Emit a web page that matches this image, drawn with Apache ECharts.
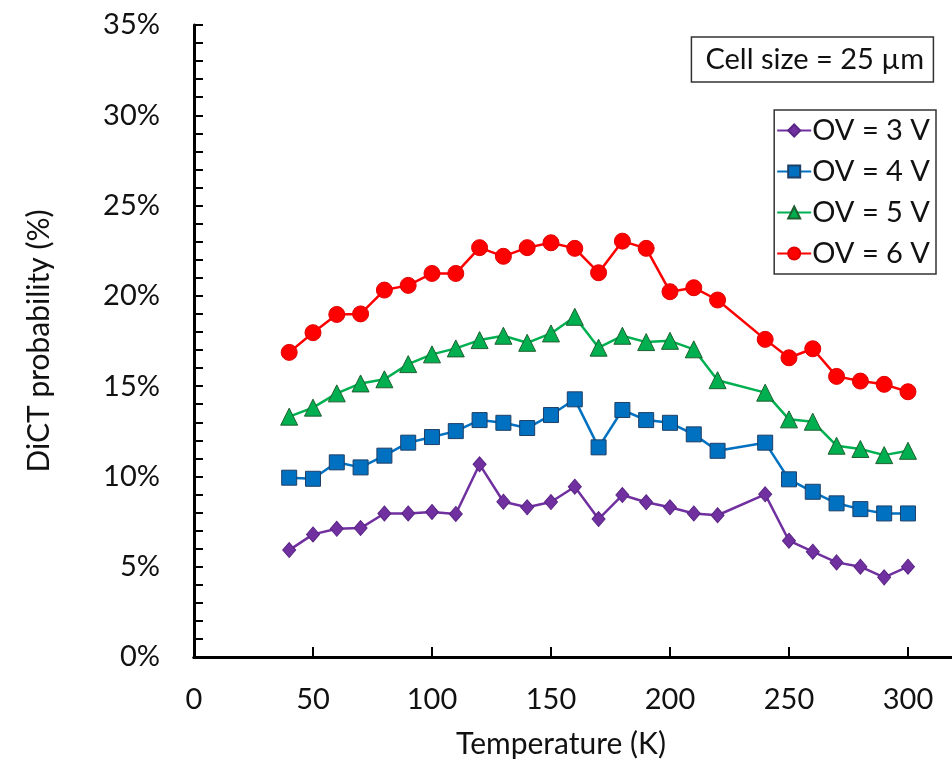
<!DOCTYPE html>
<html>
<head>
<meta charset="utf-8">
<script src="https://cdn.jsdelivr.net/npm/echarts@6/dist/echarts.min.js"></script>
<style>html,body{margin:0;padding:0;background:#fff;}#c{width:952px;height:773px;}</style>
</head>
<body>
<div id="c"></div>
<script>
const temperatures = [40,50,60,70,80,90,100,110,120,130,140,150,160,170,180,190,200,210,220,240,250,260,270,280,290,300];
const ov3 = [5.92,6.79,7.10,7.14,7.95,7.95,8.03,7.92,10.67,8.60,8.29,8.58,9.43,7.64,8.97,8.57,8.29,7.95,7.85,9.01,6.44,5.83,5.24,5.00,4.41,5.00];
const ov4 = [9.93,9.87,10.78,10.50,11.15,11.87,12.18,12.51,13.12,12.97,12.68,13.40,14.27,11.61,13.68,13.12,12.97,12.33,11.42,11.87,9.84,9.15,8.51,8.19,7.95,7.95];
const ov5 = [13.31,13.81,14.60,15.15,15.38,16.22,16.76,17.09,17.55,17.79,17.40,17.92,18.84,17.13,17.79,17.44,17.51,17.04,15.33,14.64,13.16,13.03,11.70,11.52,11.18,11.42];
const ov6 = [16.87,17.96,18.97,19.00,20.32,20.58,21.24,21.24,22.67,22.19,22.67,22.94,22.63,21.28,23.03,22.63,20.23,20.45,19.77,17.59,16.57,17.07,15.54,15.28,15.10,14.69];
const seriesNames = ['OV = 3 V','OV = 4 V','OV = 5 V','OV = 6 V'];
const xTicks = [0,50,100,150,200,250,300];
const yTicks = [0,5,10,15,20,25,30,35];

const FONT = 'Lato';
const pairs = v => temperatures.map((t,i)=>[t, v[i]]);
const styles = [
  {color:'#7030A0', symbol:'diamond', size:[13,15], border:'#5a2585'},
  {color:'#0070C0', symbol:'rect', size:15, border:'#1f3f66'},
  {color:'#00B050', symbol:'triangle', size:17, border:'#1f5f2f'},
  {color:'#FF0000', symbol:'circle', size:16, border:'#e00000'}
];
const data = [ov3, ov4, ov5, ov6];

const chart = echarts.init(document.getElementById('c'), null, {renderer:'canvas'});
chart.setOption({
  animation:false,
  backgroundColor:'#fff',
  textStyle:{fontFamily:FONT},
  title:{
    text:'Cell size = 25 µm',
    right:18, top:37,
    borderColor:'#333', borderWidth:1.5,
    padding:[8,10,8,14],
    textStyle:{fontFamily:FONT, fontSize:29, fontWeight:'normal', color:'#111'}
  },
  legend:{
    data:seriesNames,
    orient:'vertical',
    right:16, top:110,
    itemWidth:34, itemHeight:15, itemGap:12,
    borderColor:'#333', borderWidth:1.5,
    padding:[6,6,6,2],
    textStyle:{fontFamily:FONT, fontSize:29, color:'#111', padding:[0,0,0,-4]}
  },
  grid:{left:194, right:0, top:25, bottom:116, containLabel:false},
  xAxis:[{
    type:'value', min:0, max:318.5, interval:50,
    name:'Temperature (K)', nameLocation:'middle', nameGap:72,
    nameTextStyle:{fontFamily:FONT, fontSize:30, color:'#111', padding:[0,24,0,0]},
    axisLine:{show:true, onZero:false, lineStyle:{color:'#000', width:3}},
    axisTick:{show:true, inside:true, length:10, lineStyle:{color:'#000', width:2}},
    axisLabel:{show:true, margin:28, fontFamily:FONT, fontSize:29, color:'#111', showMaxLabel:false,
      formatter: v => xTicks.includes(v) ? String(v) : ''},
    splitLine:{show:false}
  },{
    type:'value', position:'top', min:0, max:318.5,
    axisLine:{show:true, lineStyle:{color:'#000', width:3}},
    axisTick:{show:false}, axisLabel:{show:false}, splitLine:{show:false}
  }],
  yAxis:{
    type:'value', min:0, max:35, interval:5,
    name:'DiCT probability (%)', nameLocation:'middle', nameGap:140, nameRotate:90,
    nameTextStyle:{fontFamily:FONT, fontSize:30, color:'#111'},
    axisLine:{show:true, lineStyle:{color:'#000', width:3}},
    axisTick:{show:true, inside:true, length:9, lineStyle:{color:'#000', width:2}},
    minorTick:{show:true, splitNumber:5, length:9, lineStyle:{color:'#000', width:2}},
    axisLabel:{margin:34, fontFamily:FONT, fontSize:29, color:'#111',
      formatter: v => yTicks.includes(v) ? v + '%' : ''},
    splitLine:{show:false}
  },
  series: data.map((v,i)=>({
    name:seriesNames[i], type:'line', data:pairs(v),
    symbol:styles[i].symbol, symbolSize:styles[i].size, showAllSymbol:true,
    lineStyle:{color:styles[i].color, width:2.5},
    itemStyle:{color:styles[i].color, borderColor:styles[i].border, borderWidth:1},
    z:2+i
  }))
});
</script>
</body>
</html>
